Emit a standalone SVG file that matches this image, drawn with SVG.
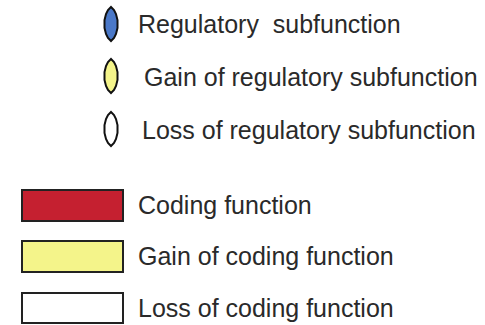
<svg xmlns="http://www.w3.org/2000/svg" width="485" height="325" viewBox="0 0 485 325">
<style>
text{font-family:"Liberation Sans",Arial,sans-serif;font-size:25px;fill:#2a2a2a;white-space:pre}
.o{stroke:#111;stroke-width:2}
.r{stroke:#222;stroke-width:2}
</style>
<defs>
<path id="oval" d="M0,-17 L3,-14 L5,-10 L6.5,-4 L6.5,4 L5,10 L3,14 L0,17 L-3,14 L-5,10 L-6.5,4 L-6.5,-4 L-5,-10 L-3,-14 Z"/>
</defs>
<rect width="485" height="325" fill="#fff"/>
<g id="leg-reg"><use href="#oval" x="111" y="24" class="o" fill="#4a78c8"/><text x="138" y="33" xml:space="preserve">Regulatory  subfunction</text></g>
<g id="leg-gain-reg"><use href="#oval" x="111" y="76" class="o" fill="#f4f48a"/><text x="144" y="86">Gain of regulatory subfunction</text></g>
<g id="leg-loss-reg"><use href="#oval" x="111" y="129" class="o" fill="#fff"/><text x="142" y="139">Loss of regulatory subfunction</text></g>
<g id="leg-coding"><rect x="22" y="190" width="101" height="31" class="r" fill="#c52030"/><text x="138" y="214">Coding function</text></g>
<g id="leg-gain-coding"><rect x="22" y="241" width="101" height="31" class="r" fill="#f4f48a"/><text x="138" y="265">Gain of coding function</text></g>
<g id="leg-loss-coding"><rect x="22" y="293" width="101" height="30" class="r" fill="#fff"/><text x="138" y="317">Loss of coding function</text></g>
</svg>
